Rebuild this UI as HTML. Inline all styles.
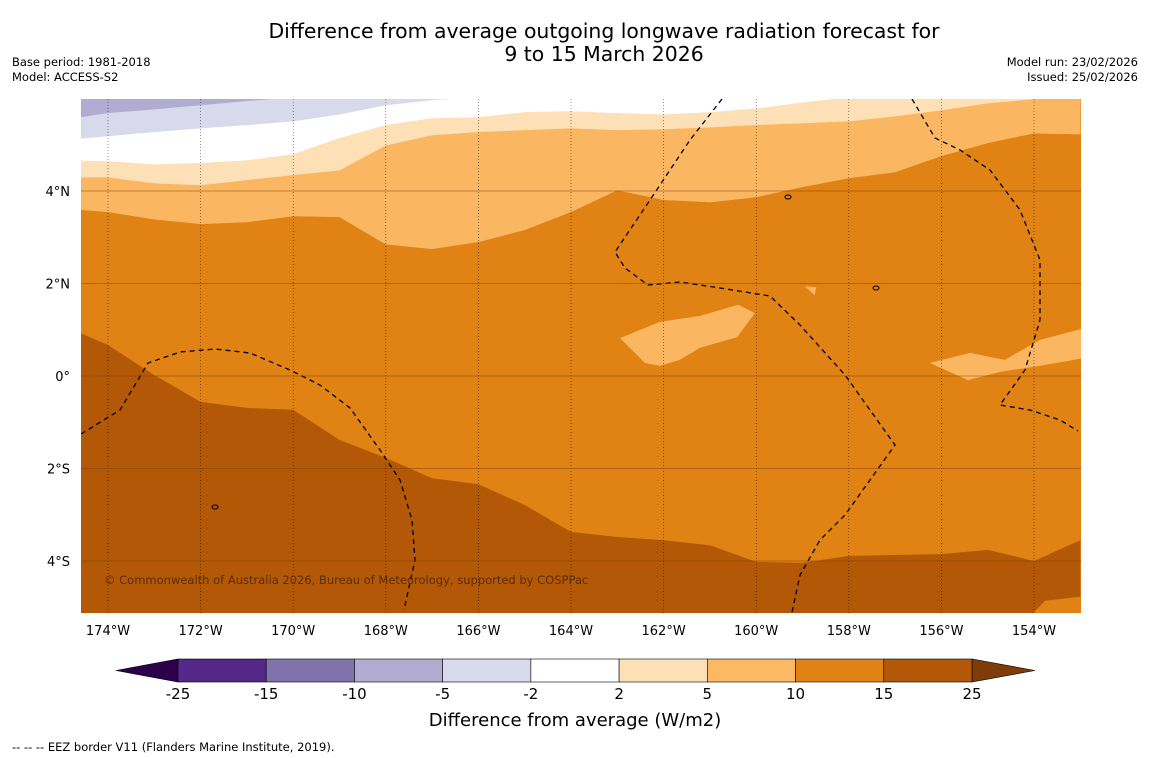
<!DOCTYPE html>
<html><head><meta charset="utf-8"><style>
body{margin:0;background:#fff;font-family:"Liberation Sans","DejaVu Sans",sans-serif;}
svg{display:block}
</style></head><body>
<svg id="chart" width="1150" height="758" viewBox="0 0 1150 758" xmlns="http://www.w3.org/2000/svg">
<rect width="1150" height="758" fill="#fff"/>
<text x="604" y="38" text-anchor="middle" font-size="20.4" fill="#000" font-family="DejaVu Sans, sans-serif">Difference from average outgoing longwave radiation forecast for</text>
<text x="604" y="61" text-anchor="middle" font-size="20.4" fill="#000" font-family="DejaVu Sans, sans-serif">9 to 15 March 2026</text>
<text x="12" y="66" font-size="11.5" font-family="DejaVu Sans, sans-serif">Base period: 1981-2018</text>
<text x="12" y="81" font-size="11.5" font-family="DejaVu Sans, sans-serif">Model: ACCESS-S2</text>
<text x="1138" y="66" text-anchor="end" font-size="11.5" font-family="DejaVu Sans, sans-serif">Model run: 23/02/2026</text>
<text x="1138" y="81" text-anchor="end" font-size="11.5" font-family="DejaVu Sans, sans-serif">Issued: 25/02/2026</text>
<defs><clipPath id="mapclip"><rect x="81" y="99" width="1000" height="514"/></clipPath></defs>
<g id="map" clip-path="url(#mapclip)"></g>
<g id="axes"></g>
<g id="cbar"></g>
<text x="575" y="726" text-anchor="middle" font-size="18" font-family="DejaVu Sans, sans-serif">Difference from average (W/m2)</text>
<text x="12" y="751" font-size="11.5" font-family="DejaVu Sans, sans-serif">--  --  -- EEZ border V11 (Flanders Marine Institute, 2019).</text>
</svg>
<script>
// ---- data ----
const lonGrid = [-175,-174,-173,-172,-171,-170,-169,-168,-167,-166,-165,-164,-163,-162,-161,-160,-159,-158,-157,-156,-155,-154,-153];
// latitude of contour boundaries at each longitude
const bound15 = [1.10,0.67,0.02,-0.56,-0.69,-0.73,-1.38,-1.77,-2.21,-2.34,-2.79,-3.37,-3.48,-3.55,-3.66,-4.02,-4.04,-3.89,-3.87,-3.85,-3.76,-4.0,-3.55];
const bound10 = [3.63,3.55,3.39,3.29,3.33,3.46,3.44,2.85,2.75,2.90,3.16,3.55,4.02,3.81,3.76,3.87,4.09,4.28,4.41,4.76,5.04,5.25,5.23];
const bound5 = [4.30,4.30,4.17,4.13,4.24,4.35,4.45,4.99,5.21,5.28,5.32,5.36,5.32,5.34,5.38,5.43,5.47,5.51,5.62,5.75,5.90,5.99,6.05];
const bound2 = [4.67,4.65,4.58,4.61,4.67,4.80,5.15,5.43,5.58,5.60,5.71,5.73,5.69,5.66,5.71,5.79,5.92,6.03,6.2,6.3,6.3,6.3,6.3];
const boundM2 = [5.10,5.19,5.28,5.36,5.43,5.51,5.66,5.86,5.97,6.03,6.2,6.2,6.2,6.2,6.2,6.2,6.2,6.2,6.2,6.2,6.2,6.2,6.2];
const boundM5 = [5.54,5.69,5.77,5.86,5.95,6.03,6.2,6.2,6.2,6.2,6.2,6.2,6.2,6.2,6.2,6.2,6.2,6.2,6.2,6.2,6.2,6.2,6.2];
const patchALon = [-162.94,-162.08,-161.21,-160.39,-160.03,-160.41,-161.21,-161.65,-162.08,-162.40];
const patchALat = [0.82,1.17,1.30,1.54,1.36,0.84,0.61,0.35,0.22,0.28];
const patchBLon = [-156.25,-155.38,-154.63,-153.87,-152.9,-152.9,-153.87,-154.73,-155.43];
const patchBLat = [0.28,0.50,0.35,0.78,1.04,0.39,0.22,0.09,-0.09];
const patchCLon = [-158.95,-158.70,-158.74];
const patchCLat = [1.94,1.92,1.75];
const patchDLon = [-154.09,-153.76,-152.9,-152.9];
const patchDLat = [-5.2,-4.86,-4.76,-5.2];
const lonTicks = [-174,-172,-170,-168,-166,-164,-162,-160,-158,-156,-154];
const latTicks = [4,2,0,-2,-4];
const levels = [-25,-15,-10,-5,-2,2,5,10,15,25];
const levelColors = ["#542788","#8073ac","#b2abd2","#d8daeb","#ffffff","#fee0b6","#fdb863","#e08214","#b35806"];
const C = {m10:"#b2abd2",m5:"#d8daeb",w:"#ffffff",p2:"#fee0b6",p5:"#fbb661",p10:"#e08214",p15:"#b35806"};
// ---- axes ----
const X = lon => 108 + (lon + 174) * 46.3;
const Y = lat => 376 - lat * 46.25;
const NS = "http://www.w3.org/2000/svg";
const map = document.getElementById('map'), axes = document.getElementById('axes'), cbar = document.getElementById('cbar');
function mk(tag, attrs, parent){const e=document.createElementNS(NS,tag);for(const k in attrs)e.setAttribute(k,attrs[k]);parent.appendChild(e);return e;}
function ptsAbove(b){let s=lonGrid.map((l,i)=>X(l)+","+Y(b[i]));s.push(X(-153)+","+Y(8));s.push(X(-175)+","+Y(8));return s.join(" ");}
function ptsBelow(b){let s=lonGrid.map((l,i)=>X(l)+","+Y(b[i]));s.push(X(-153)+","+Y(-7));s.push(X(-175)+","+Y(-7));return s.join(" ");}
let r = mk('rect',{x:81,y:99,width:1000,height:514,fill:C.p10},map);


const layers=[[bound10,C.p5,'region-5-10'],[bound5,C.p2,'region-2-5'],[bound2,C.w,'region-neutral'],[boundM2,C.m5,'region-minus-2-5'],[boundM5,C.m10,'region-minus-5-10']];
layers.forEach(([b,c,n])=>{
  const p=mk('polygon',{points:ptsAbove(b),fill:c,stroke:c,'stroke-width':0.5},map);
  
  
});
let d=mk('polygon',{points:ptsBelow(bound15),fill:C.p15},map);


[[patchALon,patchALat,C.p5,'patch-a'],[patchBLon,patchBLat,C.p5,'patch-b'],[patchCLon,patchCLat,C.p5,'patch-c'],[patchDLon,patchDLat,C.p10,'patch-d']].forEach(([lo,la,c,n])=>{
  const p=mk('polygon',{points:lo.map((l,i)=>X(l)+","+Y(la[i])).join(" "),fill:c},map);
  
  
});
// EEZ borders
const eez=["M81,434 L120,410 L148,363 L180,352 L215,349 L250,353 L290,370 L320,385 L350,408 L380,450 L400,480 L412,520 L415,560 L404,610",
"M722,99 L690,140 L650,200 L615,252 L625,268 L648,285 L680,282 L720,288 L770,296 L800,325 L845,375 L895,445 L870,480 L845,515 L820,540 L800,575 L792,612",
"M912,99 L935,138 L960,150 L990,170 L1020,210 L1040,260 L1040,320 L1025,370 L1000,405 L1030,410 L1060,420 L1078,431"];
eez.forEach((s,i)=>{
  const p=mk('path',{d:s,fill:'none',stroke:'#000','stroke-width':1.3,'stroke-dasharray':'5,4'},map);
  
  
});
// small islands
[[788,197],[876,288],[215,507]].forEach(([x,y],i)=>{
  const e=mk('ellipse',{cx:x,cy:y,rx:3,ry:2,fill:'none',stroke:'#000','stroke-width':1},map);
  
  
});
// grid
lonTicks.forEach(l=>{
  const g=mk('line',{x1:X(l),x2:X(l),y1:99,y2:613,stroke:'#000','stroke-width':0.6,'stroke-dasharray':'1,2',opacity:0.7},map);
  
  
  const t=mk('text',{x:X(l),y:635,'text-anchor':'middle','font-size':13,'font-family':'DejaVu Sans, sans-serif'},axes);
  t.textContent=Math.abs(l)+"°W";
  
  
});
latTicks.forEach(l=>{
  const g=mk('line',{x1:81,x2:1081,y1:Y(l),y2:Y(l),stroke:'#7a3d00','stroke-width':0.8,opacity:0.6},map);
  
  
  const t=mk('text',{x:70,y:Y(l)+5,'text-anchor':'end','font-size':13,'font-family':'DejaVu Sans, sans-serif'},axes);
  t.textContent=l===0?"0°":Math.abs(l)+"°"+(l>0?"N":"S");
  
  
});
const cp=mk('text',{x:104,y:584,'font-size':11.5,fill:'#5a2e08','font-family':'DejaVu Sans, sans-serif'},axes);
cp.textContent="© Commonwealth of Australia 2026, Bureau of Meteorology, supported by COSPPac";


// colorbar
const cx0=178, cx1=972, cy=659, ch=23, segW=(cx1-cx0)/levelColors.length;
const le=mk('polygon',{points:`116,670.5 ${cx0},${cy} ${cx0},${cy+ch}`,fill:'#2d004b',stroke:'#000','stroke-width':0.6},cbar);


const re=mk('polygon',{points:`1035,670.5 ${cx1},${cy} ${cx1},${cy+ch}`,fill:'#7f3b08',stroke:'#000','stroke-width':0.6},cbar);


levelColors.forEach((c,i)=>{
  const s=mk('rect',{x:cx0+i*segW,y:cy,width:segW,height:ch,fill:c,stroke:'#000','stroke-width':0.6},cbar);
  
  
});
levels.forEach((v,i)=>{
  const t=mk('text',{x:cx0+i*segW,y:699,'text-anchor':'middle','font-size':15,'font-family':'DejaVu Sans, sans-serif'},cbar);
  t.textContent=v;
  
  
});
</script>
</body></html>
